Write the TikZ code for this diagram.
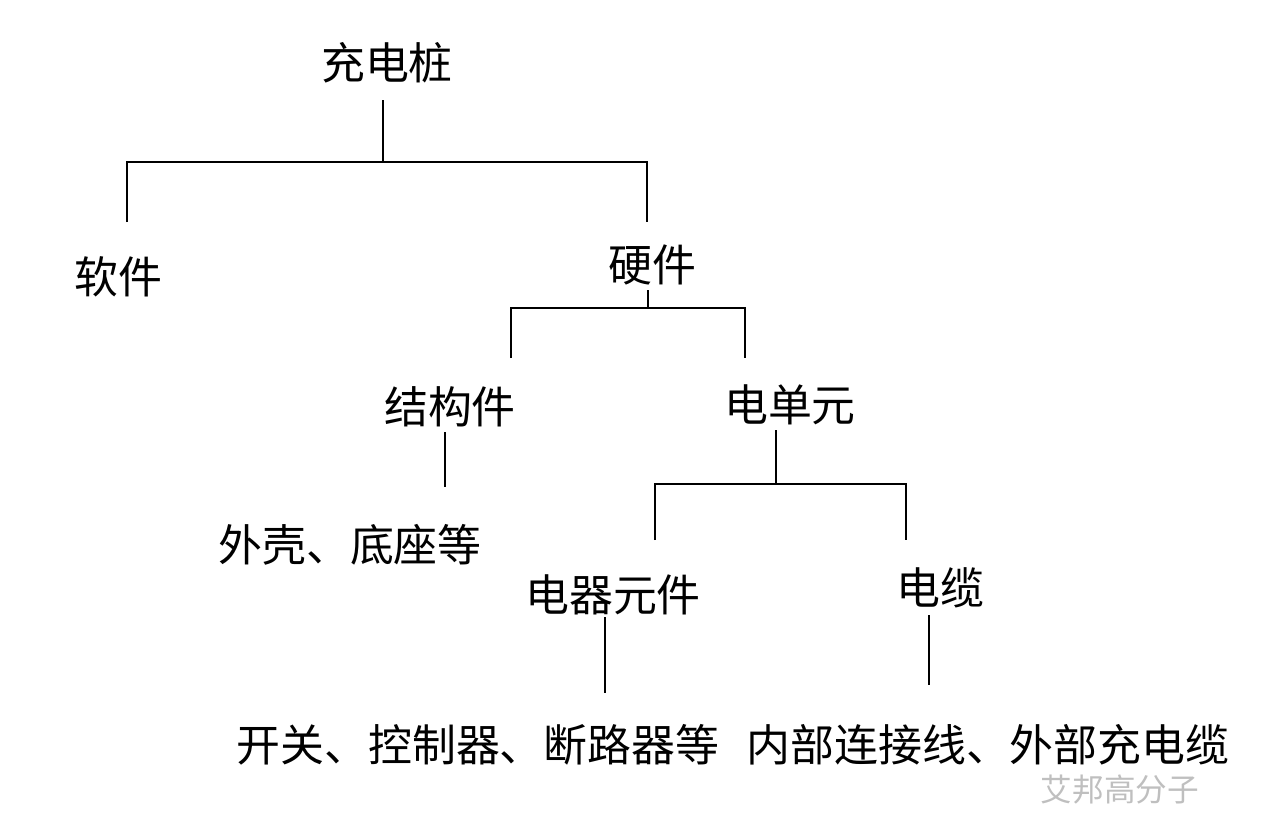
\documentclass[tikz,border=0pt]{standalone}
\usepackage{fontspec}
\newfontfamily\cjk{Noto Sans CJK SC}
\begin{document}
\begin{tikzpicture}[x=0.02cm,y=-0.02cm,
  lbl/.style={font=\cjk\fontsize{25}{27}\selectfont, inner sep=0pt},
  ln/.style={line width=0.7pt}]
\useasboundingbox (0,0) rectangle (1261,835);
\node[lbl] (root) at (387,63) {充电桩};
\node[lbl] (soft) at (118,277) {软件};
\node[lbl] (hard) at (652,265) {硬件};
\node[lbl] (struct) at (450,407) {结构件};
\node[lbl] (eunit) at (790,405) {电单元};
\node[lbl] (shell) at (350,545) {外壳、底座等};
\node[lbl] (elec) at (613,595) {电器元件};
\node[lbl] (cable) at (940,588) {电缆};
\node[lbl] (sw) at (478,745) {开关、控制器、断路器等};
\node[lbl] (wire) at (988,745) {内部连接线、外部充电缆};
\node[font=\cjk\fontsize{18}{20}\selectfont, text=black!25, inner sep=0pt] (wm) at (1120,790) {艾邦高分子};
\draw[ln] (383,100) -- (383,162);
\draw[ln] (127,222) -- (127,162) -- (647,162) -- (647,222);
\draw[ln] (648,290) -- (648,308);
\draw[ln] (511,358) -- (511,308) -- (745,308) -- (745,358);
\draw[ln] (445,432) -- (445,487);
\draw[ln] (776,430) -- (776,484);
\draw[ln] (655,540) -- (655,484) -- (906,484) -- (906,540);
\draw[ln] (605,617) -- (605,693);
\draw[ln] (929,615) -- (929,685);
\end{tikzpicture}
\end{document}
